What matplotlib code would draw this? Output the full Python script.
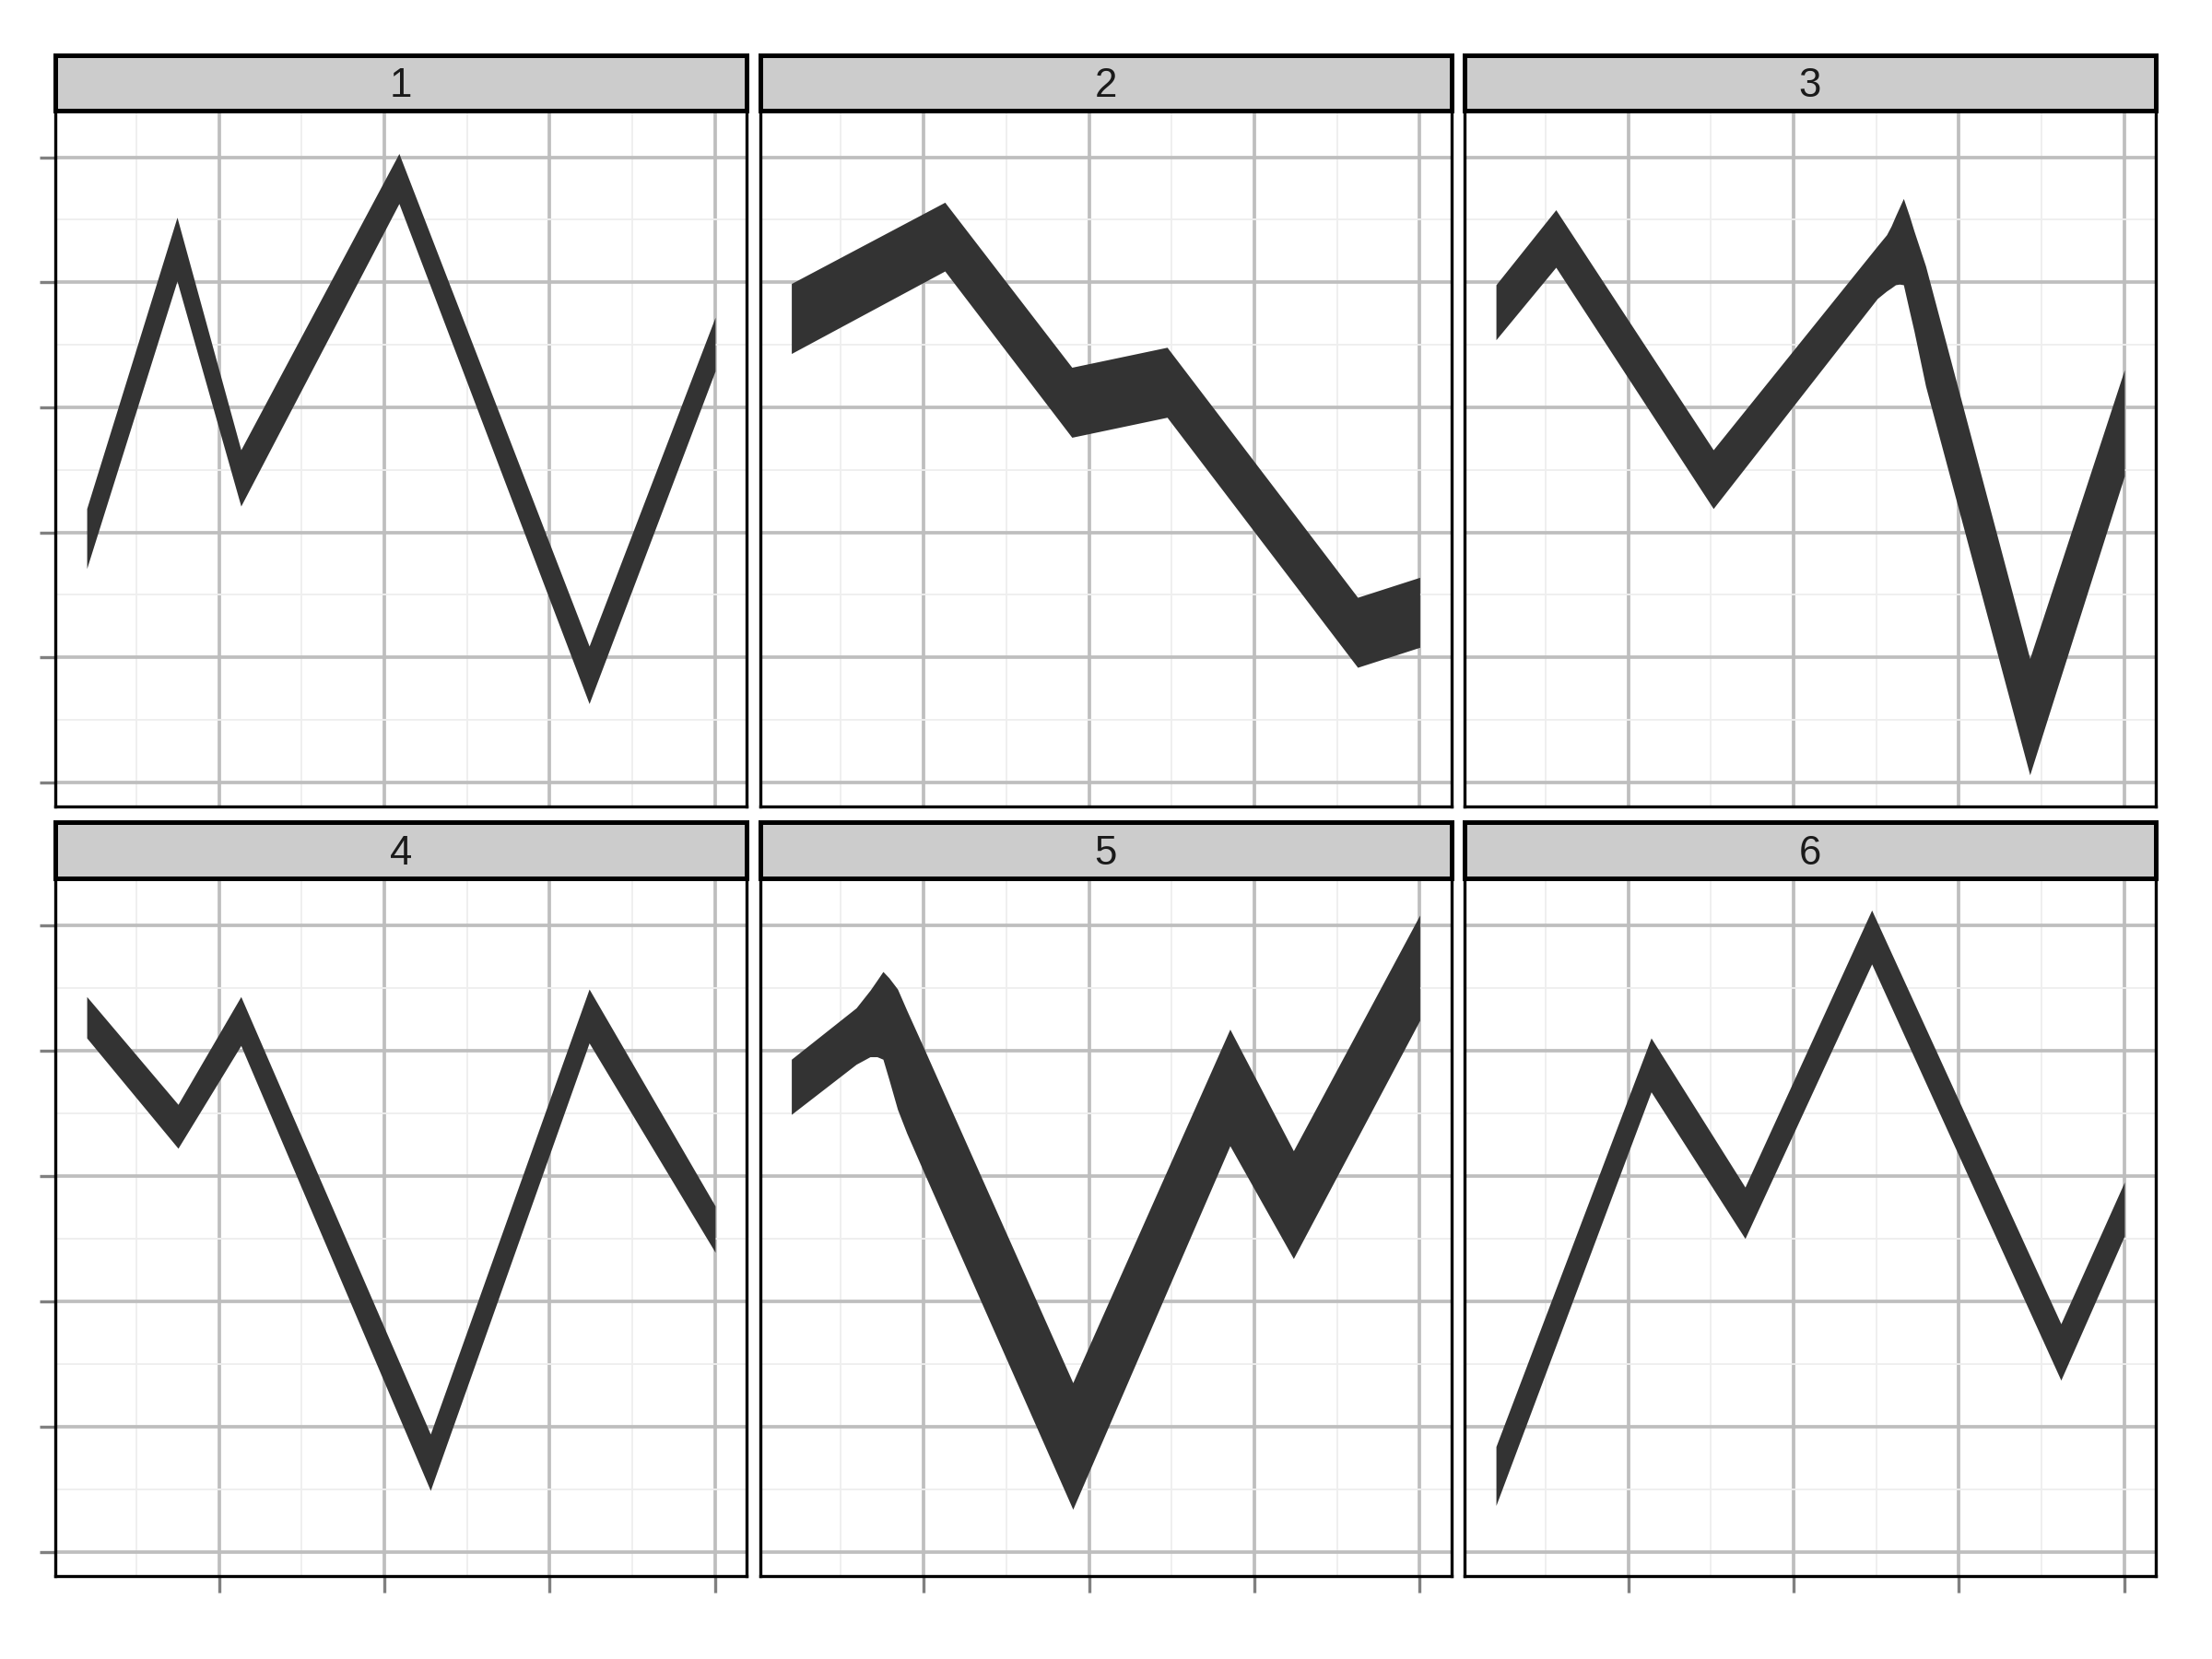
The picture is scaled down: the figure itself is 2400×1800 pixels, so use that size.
import numpy as np
import matplotlib
matplotlib.use("Agg")
import matplotlib.pyplot as plt

plt.rcParams['font.family'] = ['Liberation Sans', 'DejaVu Sans']

# facet labels
facets = ["1", "2", "3", "4", "5", "6"]

# ribbon knots per facet: x, lower edge, upper edge
x_1 = [1, 3.73, 5.66, 10.44, 16.19, 20]
ymin_1 = [1.71, 4.01, 2.21, 4.63, 0.63, 3.29]
ymax_1 = [2.19, 4.52, 2.66, 5.03, 1.09, 3.72]

x_2 = [1, 5.64, 9.48, 12.36, 18.12, 20]
ymin_2 = [3.43, 4.09, 2.76, 2.92, 0.92, 1.08]
ymax_2 = [3.99, 4.64, 3.32, 3.48, 1.48, 1.64]

x_3 = [1, 2.81, 7.57, 12.53, 12.81, 12.95, 13.08, 13.2, 13.32, 13.5, 13.64, 13.99, 17.14, 20]
ymin_3 = [3.54, 4.12, 2.19, 3.87, 3.93, 3.955, 3.98, 3.985, 3.98, 3.77, 3.61, 3.17, 0.06, 2.45]
ymax_3 = [3.98, 4.58, 2.66, 4.29, 4.38, 4.45, 4.53, 4.60, 4.67, 4.53, 4.41, 4.13, 0.99, 3.30]

x_4 = [1, 3.76, 5.66, 11.39, 16.19, 20]
ymin_4 = [4.10, 3.22, 4.04, 0.49, 4.06, 2.39]
ymax_4 = [4.43, 3.57, 4.43, 0.94, 4.49, 2.76]

x_5 = [1, 2.96, 3.38, 3.59, 3.77, 3.95, 4.21, 4.49, 4.97, 9.51, 14.26, 16.18, 20]
ymin_5 = [3.49, 3.89, 3.95, 3.95, 3.93, 3.77, 3.53, 3.34, 3.05, 0.34, 3.24, 2.34, 4.24]
ymax_5 = [3.93, 4.34, 4.48, 4.56, 4.63, 4.58, 4.49, 4.32, 4.04, 1.35, 4.17, 3.20, 5.08]

x_6 = [1, 5.69, 8.53, 12.36, 18.08, 20]
ymin_6 = [0.37, 3.67, 2.50, 4.69, 1.37, 2.52]
ymax_6 = [0.84, 4.10, 2.91, 5.12, 1.82, 2.95]

x_breaks = [5, 10, 15, 20]
x_minor = [2.5, 7.5, 12.5, 17.5]
y_breaks = [0, 1, 2, 3, 4, 5]
y_minor = [0.5, 1.5, 2.5, 3.5, 4.5]

series = [(x_1, ymin_1, ymax_1), (x_2, ymin_2, ymax_2), (x_3, ymin_3, ymax_3),
          (x_4, ymin_4, ymax_4), (x_5, ymin_5, ymax_5), (x_6, ymin_6, ymax_6)]

# shared scales with ggplot-like 5% expansion
all_x = np.concatenate([s[0] for s in series])
all_y = np.concatenate([np.r_[s[1], s[2]] for s in series])
xpad = 0.05 * (all_x.max() - all_x.min())
ypad = 0.05 * (all_y.max() - all_y.min())
xlim = (all_x.min() - xpad, all_x.max() + xpad)
ylim = (all_y.min() - ypad, all_y.max() + ypad)

W, H = 2400, 1800
fig = plt.figure(figsize=(8, 6), dpi=300)

col_left = [60, 824.5, 1589]
panel_w = 750
rows = [(60, 120, 875), (892, 953, 1710)]  # strip top, panel top, panel bottom


def rect(x0, y0, x1, y1):
    return [x0 / W, 1 - y1 / H, (x1 - x0) / W, (y1 - y0) / H]


for i, (xs, lo, hi) in enumerate(series):
    r, c = divmod(i, 3)
    st, pt, pb = rows[r]
    x0 = col_left[c]
    ax = fig.add_axes(rect(x0, pt, x0 + panel_w, pb))
    ax.set_xlim(xlim)
    ax.set_ylim(ylim)
    ax.set_axisbelow(True)
    ax.set_xticks(x_breaks)
    ax.set_yticks(y_breaks)
    ax.set_xticks(x_minor, minor=True)
    ax.set_yticks(y_minor, minor=True)
    ax.set_xticklabels([])
    ax.set_yticklabels([])
    ax.grid(which='major', color='#BEBEBE', linewidth=0.9)
    ax.grid(which='minor', color='#EEEEEE', linewidth=0.45)
    ax.tick_params(which='minor', length=0)
    ax.tick_params(which='major', length=4.2, width=0.8, color='#808080')
    if r == 0:
        ax.tick_params(axis='x', which='major', length=0)
    if c != 0:
        ax.tick_params(axis='y', which='major', length=0)
    for sp in ax.spines.values():
        sp.set_color('black')
        sp.set_linewidth(0.8)
        sp.set_zorder(5)

    ax.fill_between(xs, lo, hi, color='#333333', linewidth=0, zorder=2)

    # facet strip
    sax = fig.add_axes(rect(x0, st, x0 + panel_w, pt))
    sax.set_facecolor('#CCCCCC')
    sax.set_xticks([])
    sax.set_yticks([])
    for sp in sax.spines.values():
        sp.set_color('black')
        sp.set_linewidth(1.2)
    sax.text(0.5, 0.44, facets[i], transform=sax.transAxes, ha='center',
             va='center', fontsize=10.5, color='#1A1A1A')

fig.savefig("out.png", dpi=300)
